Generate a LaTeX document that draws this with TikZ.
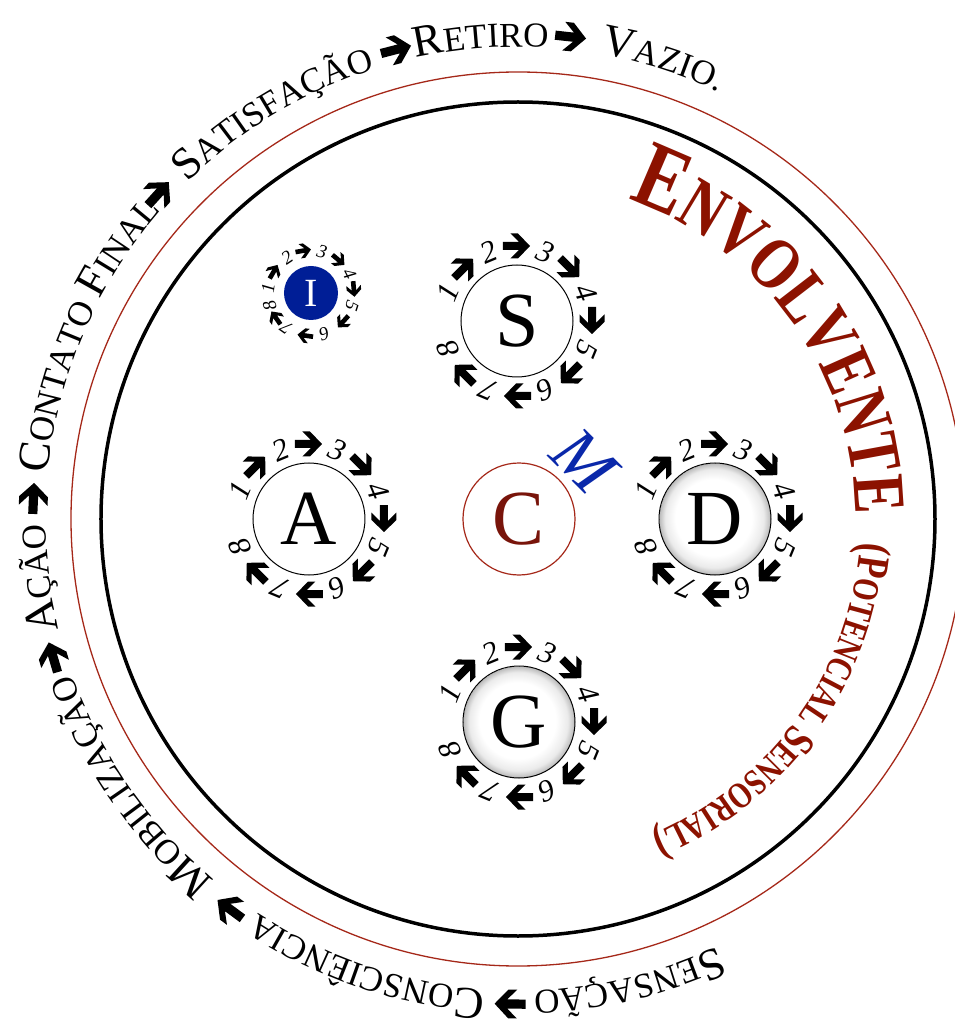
\documentclass[tikz,border=0pt]{standalone}
\usepackage{fontspec}
\setmainfont{Liberation Serif}
\newfontfamily\envf[FakeStretch=0.78]{Liberation Serif}
\usetikzlibrary{decorations.text,calc}
\definecolor{envred}{RGB}{140,18,0}
\definecolor{ringred}{RGB}{165,40,25}
\definecolor{cred}{RGB}{120,20,10}
\definecolor{iblue}{RGB}{0,30,150}
\definecolor{mblue}{RGB}{10,40,170}
\pgfdeclareradialshading{rim}{\pgfpoint{-2bp}{2bp}}{color(0bp)=(white); color(17bp)=(white); color(22bp)=(black!8); color(25bp)=(black!28)}
\newcommand\oA{\fontsize{45}{50}\selectfont}
\newcommand\oB{\fontsize{35}{40}\selectfont}
\newcommand\eA{\envf\bfseries\fontsize{95}{100}\selectfont\color{envred}}
\newcommand\eB{\envf\bfseries\fontsize{74}{80}\selectfont\color{envred}}
\newcommand\pA{\envf\bfseries\fontsize{46}{50}\selectfont\color{envred}}
\newcommand\pB{\envf\bfseries\fontsize{37}{40}\selectfont\color{envred}}
\tikzset{
  arw/.pic={\fill (13,0) -- (1,12.5) -- (-6.5,12.5) -- (2,4) -- (-14,4) -- (-14,-4) -- (2,-4) -- (-6.5,-12.5) -- (1,-12.5) -- cycle;},
  ringnum/.style={font=\itshape\fontsize{31}{31}\selectfont, inner sep=0},
  smallnum/.style={font=\itshape\fontsize{19}{19}\selectfont, inner sep=0},
  disc/.style={circle, minimum size=112pt, inner sep=0, font=\fontsize{78}{78}\selectfont, line width=1},
  shadedisc/.style={disc, draw, shade, shading=rim},
  bigring/.style={line width=3.5},
  redring/.style={ringred, line width=1.3},
}
\newcommand\ringnums[2]{%
  \foreach \k in {1,...,8}{%
    \pgfmathsetmacro\ang{157.5-45*(\k-1)}%
    \node[ringnum, rotate=\ang-90] (#1n\k) at ($(#2)+(\ang:75)$) {\k};
  }%
  \foreach \k in {1,...,7}{%
    \pgfmathsetmacro\ang{135-45*(\k-1)}%
    \pic[rotate=\ang-90, scale=1.0] at ($(#2)+(\ang:75)$) {arw};
  }%
}
\newcommand\oword[2]{%
  \path[decorate, decoration={text along path, text={#2}, text align=left}] (#1:472) arc[start angle=#1, end angle=#1-45, radius=472];
}
\begin{document}
\begin{tikzpicture}[x=1pt,y=1pt]
\fill[white] (-518,-509) rectangle (437,519);
\useasboundingbox (-518,-509) rectangle (437,519);
\coordinate (O) at (0,0);
\draw[redring] (O) circle[radius=447];
\draw[bigring] (O) circle[radius=417];

% outer process text
\oword{-65}{|\oA|S|\oB|ENSAÇÃO}
\oword{-94}{|\oA|C|\oB|ONSCIÊNCIA}
\oword{-130}{|\oA|M|\oB|OBILIZAÇÃO}
\oword{-166.5}{|\oA|A|\oB|ÇÃO}
\oword{-185.5}{|\oA|C|\oB|ONTATO |\oA|F|\oB|INAL}
\oword{134.5}{|\oA|S|\oB|ATISFAÇÃO}
\oword{102.5}{|\oA|R|\oB|ETIRO}
\oword{80}{|\oA|V|\oB|AZIO.}
\foreach \ang in {-91,-126.5,-163.5,-182.5,137.8,104.5,83.7}{%
  \pic[rotate=\ang-90, scale=1.15] at (\ang:485) {arw};
}

% Envolvente
\path[decorate, decoration={text along path, text={|\eA|E|\eB|NVOLVENTE}, text align=left}] (71:338) arc[start angle=71, end angle=-20, radius=338];
\path[decorate, decoration={text along path, text={|\pA|(P|\pB|OTENCIAL |\pA|S|\pB|ENSORIAL|\pA|)}, text align=left}] (-4:343) arc[start angle=-4, end angle=-90, radius=343];

% discs
\node[disc, draw] (S) at (-1,198) {S};
\node[disc, draw] (A) at (-209,0) {A};
\node[disc, draw=ringred, line width=1.2, text=cred] (C) at (1,0) {C};
\node[shadedisc] (D) at (197,0) {D};
\node[shadedisc] (G) at (1,-203) {G};
\node[circle, minimum size=54pt, inner sep=0, fill=iblue, text=white, font=\fontsize{40}{40}\selectfont] (I) at (-207,226) {I};
\node[text=mblue, font=\itshape\fontsize{70}{70}\selectfont, rotate=-45, inner sep=0] (M) at (66,58) {M};

\ringnums{S}{S}
\ringnums{A}{A}
\ringnums{D}{D}
\ringnums{G}{G}
\foreach \k/\ang in {1/174, 2/124, 3/75, 4/27, 5/-18, 6/-72, 7/-125, 8/-163}{%
  \node[smallnum, rotate=\ang-90] (In\k) at ($(I)+(\ang:43)$) {\k};
}
\foreach \ang in {150,100,50,5,-42,-98,-145}{%
  \pic[rotate=\ang-90, scale=0.58] at ($(I)+(\ang:43)$) {arw};
}
\end{tikzpicture}
\end{document}
